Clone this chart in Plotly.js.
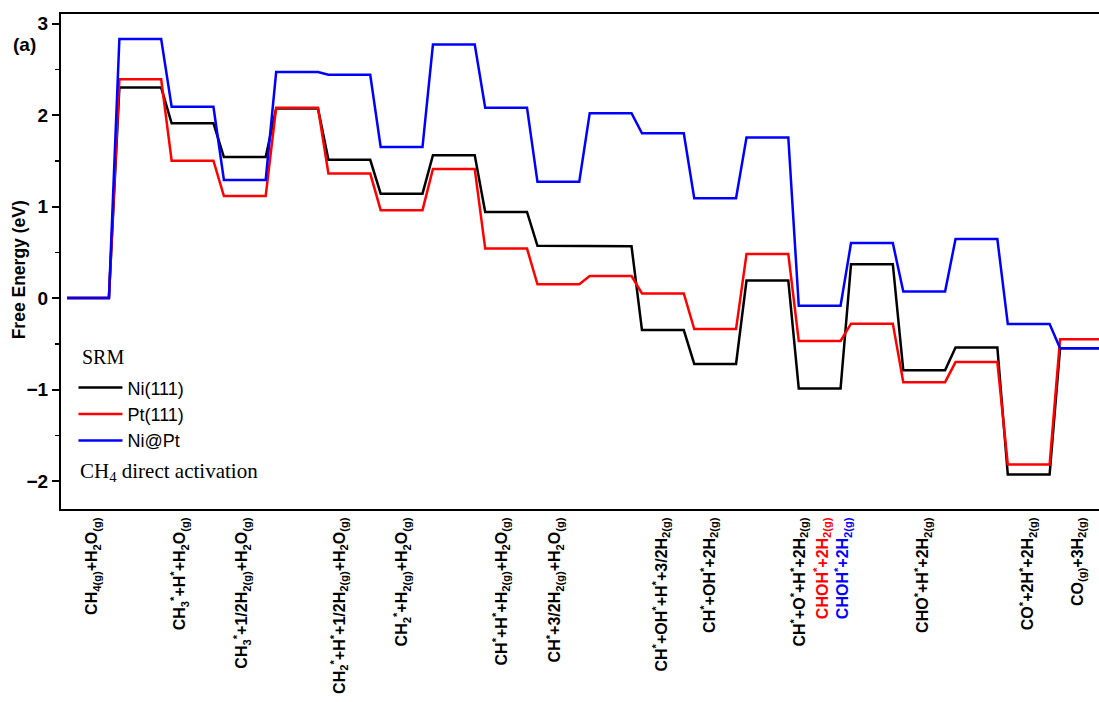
<!DOCTYPE html>
<html>
<head>
<meta charset="utf-8">
<script src="https://cdn.plot.ly/plotly-3.0.1.min.js"></script>
<style>html,body{margin:0;padding:0;background:#fff;}#chart{width:1099px;height:702px;}</style>
</head>
<body>
<div id="chart"></div>
<script>
// Reaction step levels (index 0..19) and free energies (eV)
const steps = [0,1,2,3,4,5,6,7,8,9,10,11,12,13,14,15,16,17,18,19];
const ni111 = [0, 2.30, 1.91, 1.54, 2.07, 1.51, 1.14, 1.56, 0.94, 0.57, 0.565, -0.35, -0.72, 0.19, -0.99, 0.37, -0.79, -0.54, -1.93, -0.55];
const pt111 = [0, 2.39, 1.50, 1.115, 2.08, 1.36, 0.96, 1.41, 0.54, 0.15, 0.24, 0.05, -0.34, 0.48, -0.47, -0.28, -0.92, -0.70, -1.82, -0.45];
const niPt  = [0, 2.83, 2.09, 1.29, 2.47, 2.44, 1.65, 2.77, 2.08, 1.27, 2.02, 1.80, 1.09, 1.755, -0.085, 0.60, 0.07, 0.645, -0.285, -0.55];

const seriesNames = ["Ni(111)", "Pt(111)", "Ni@Pt"];
const seriesColors = ["#000000", "#ff0000", "#0000ff"];

// Category labels placed along the step axis
const labelPos = [0.08, 1.76, 2.95, 4.82, 6.01, 7.92, 8.94, 10.98, 11.90, 13.62, 14.06, 14.45, 15.98, 17.99, 18.94];
const labelText = [
  "CH<sub>4(g)</sub>+H<sub>2</sub>O<sub>(g)</sub>",
  "CH<sub>3</sub><sup>*</sup>+H<sup>*</sup>+H<sub>2</sub>O<sub>(g)</sub>",
  "CH<sub>3</sub><sup>*</sup>+1/2H<sub>2(g)</sub>+H<sub>2</sub>O<sub>(g)</sub>",
  "CH<sub>2</sub><sup>*</sup>+H<sup>*</sup>+1/2H<sub>2(g)</sub>+H<sub>2</sub>O<sub>(g)</sub>",
  "CH<sub>2</sub><sup>*</sup>+H<sub>2(g)</sub>+H<sub>2</sub>O<sub>(g)</sub>",
  "CH<sup>*</sup>+H<sup>*</sup>+H<sub>2(g)</sub>+H<sub>2</sub>O<sub>(g)</sub>",
  "CH<sup>*</sup>+3/2H<sub>2(g)</sub>+H<sub>2</sub>O<sub>(g)</sub>",
  "CH<sup>*</sup>+OH<sup>*</sup>+H<sup>*</sup>+3/2H<sub>2(g)</sub>",
  "CH<sup>*</sup>+OH<sup>*</sup>+2H<sub>2(g)</sub>",
  "CH<sup>*</sup>+O<sup>*</sup>+H<sup>*</sup>+2H<sub>2(g)</sub>",
  "<span style='color:#ff0000'>CHOH<sup>*</sup>+2H<sub>2(g)</sub></span>",
  "<span style='color:#0000ff'>CHOH<sup>*</sup>+2H<sub>2(g)</sub></span>",
  "CHO<sup>*</sup>+H<sup>*</sup>+2H<sub>2(g)</sub>",
  "CO<sup>*</sup>+2H<sup>*</sup>+2H<sub>2(g)</sub>",
  "CO<sub>(g)</sub>+3H<sub>2(g)</sub>"
];

const HALF = 0.40; // half width of each energy level plateau

function levelPath(vals) {
  const x = [], y = [];
  steps.forEach((s, i) => {
    x.push(s - HALF, s + HALF);
    y.push(vals[i], vals[i]);
  });
  return {x, y};
}

const allSeries = [ni111, pt111, niPt];
const traces = allSeries.map((vals, i) => {
  const p = levelPath(vals);
  return {
    x: p.x, y: p.y, type: 'scatter', mode: 'lines',
    name: seriesNames[i],
    line: {color: seriesColors[i], width: 2.5},
    hoverinfo: 'skip'
  };
});

const sans = "Liberation Sans, Arial, sans-serif";
const serif = "Liberation Serif, Times New Roman, serif";

const layout = {
  width: 1099, height: 702,
  margin: {l: 61, r: 0, t: 14, b: 193},
  paper_bgcolor: '#ffffff', plot_bgcolor: '#ffffff',
  showlegend: true,
  legend: {
    x: 0.012, y: 0.282, xanchor: 'left', yanchor: 'top',
    bgcolor: 'rgba(0,0,0,0)', borderwidth: 0,
    itemwidth: 44,
    font: {family: sans, size: 18, color: '#000'},
    tracegroupgap: 0
  },
  xaxis: {
    range: [-0.517, 19.345],
    showgrid: false, zeroline: false,
    showline: true, linecolor: '#000', linewidth: 2, mirror: true,
    ticks: '',
    tickmode: 'array', tickvals: labelPos, ticktext: labelText,
    tickangle: -90,
    tickfont: {family: sans, size: 16, color: '#000', weight: 'bold'}
  },
  yaxis: {
    range: [-2.306, 3.104],
    showgrid: false, zeroline: false,
    showline: true, linecolor: '#000', linewidth: 2,
    ticks: 'outside', ticklen: 7, tickwidth: 2, tickcolor: '#000',
    dtick: 1, tick0: 0,
    minor: {ticks: 'outside', ticklen: 4, tickwidth: 1.5, tickcolor: '#000', dtick: 0.5},
    tickfont: {family: sans, size: 19, color: '#000', weight: 'bold'}
  },
  annotations: [
    {text: 'Free Energy (eV)', xref: 'paper', yref: 'paper', x: -0.041, y: 0.483, xanchor: 'center', yanchor: 'middle',
     textangle: -90, showarrow: false, font: {family: sans, size: 17.5, color: '#000', weight: 'bold'}},
    {text: '(a)', xref: 'paper', yref: 'paper', x: -0.048, y: 0.939, xanchor: 'left', yanchor: 'middle',
     showarrow: false, font: {family: sans, size: 19, color: '#000', weight: 'bold'}},
    {text: 'SRM', xref: 'paper', yref: 'paper', x: 0.018, y: 0.307, xanchor: 'left', yanchor: 'middle',
     showarrow: false, font: {family: serif, size: 20, color: '#000'}},
    {text: 'CH<sub>4</sub> direct activation', xref: 'paper', yref: 'paper', x: 0.016, y: 0.075, xanchor: 'left', yanchor: 'middle',
     showarrow: false, font: {family: serif, size: 21, color: '#000'}}
  ]
};

Plotly.newPlot('chart', traces, layout, {displayModeBar: false, staticPlot: true});
</script>
</body>
</html>
